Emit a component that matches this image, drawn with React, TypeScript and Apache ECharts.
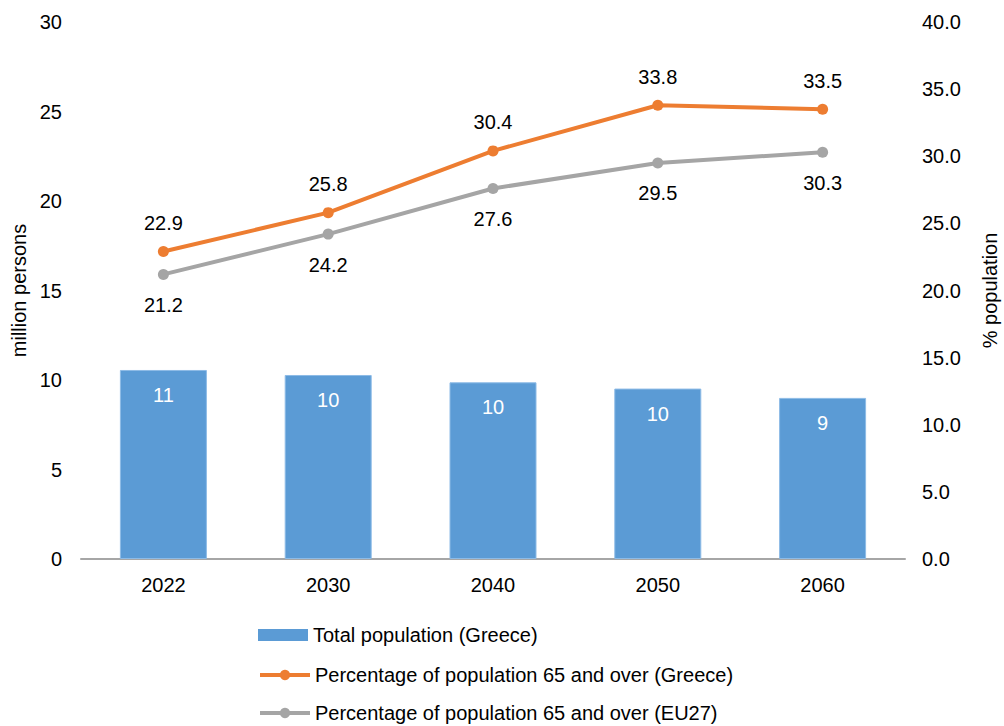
import React, { useEffect, useRef } from "react";
import * as echarts from "echarts";

const years = ["2022", "2030", "2040", "2050", "2060"];
const totalPopulation = [10.56, 10.28, 9.87, 9.52, 9.0];
const pctGreece = [22.9, 25.8, 30.4, 33.8, 33.5];
const pctEU27 = [21.2, 24.2, 27.6, 29.5, 30.3];

const NAME_BAR = "Total population (Greece)";
const NAME_GR = "Percentage of population 65 and over (Greece)";
const NAME_EU = "Percentage of population 65 and over (EU27)";

const FONT = "Liberation Sans";
const FS = 20;

export default function App() {
  const ref = useRef<HTMLDivElement>(null);
  useEffect(() => {
    if (!ref.current) return;
    const chart = echarts.init(ref.current, null, { renderer: "svg" });
    const legendBase = {
      orient: "horizontal",
      left: 258,
      padding: 0,
      itemWidth: 50,
      itemHeight: 12,
      textStyle: { fontFamily: FONT, fontSize: FS, color: "#000", lineHeight: 20 },
    };
    chart.setOption({
      animation: false,
      textStyle: { fontFamily: FONT },
      grid: {
        left: 81,
        right: 99,
        top: 22,
        bottom: 167,
        containLabel: false,
        outerBoundsMode: "none",
      },
      legend: [
        { ...legendBase, top: 625, data: [{ name: NAME_BAR, icon: "rect", itemStyle: { borderWidth: 0 } }] },
        { ...legendBase, top: 665, itemHeight: 13, data: [{ name: NAME_GR, lineStyle: { width: 4 } }] },
        { ...legendBase, top: 703, itemHeight: 13, data: [{ name: NAME_EU, lineStyle: { width: 4 } }] },
      ],
      xAxis: {
        type: "category",
        data: years,
        axisLine: { lineStyle: { color: "#a6a6a6", width: 2 } },
        axisTick: { show: false },
        axisLabel: { color: "#000", fontSize: FS, margin: 16, fontFamily: FONT },
      },
      yAxis: [
        {
          type: "value",
          min: 0,
          max: 30,
          interval: 5,
          name: "million persons",
          nameLocation: "middle",
          nameGap: 52,
          nameRotate: 90,
          nameTextStyle: { color: "#000", fontSize: FS, fontFamily: FONT },
          axisLine: { show: false },
          axisTick: { show: false },
          splitLine: { show: false },
          axisLabel: { color: "#000", fontSize: FS, margin: 19, fontFamily: FONT },
        },
        {
          type: "value",
          min: 0,
          max: 40,
          interval: 5,
          name: "% population",
          nameLocation: "middle",
          nameGap: 75,
          nameRotate: 90,
          nameTextStyle: { color: "#000", fontSize: FS, fontFamily: FONT },
          axisLine: { show: false },
          axisTick: { show: false },
          splitLine: { show: false },
          axisLabel: {
            color: "#000",
            fontSize: FS,
            margin: 17,
            fontFamily: FONT,
            formatter: (v: number) => v.toFixed(1),
          },
        },
      ],
      series: [
        {
          name: NAME_BAR,
          type: "bar",
          yAxisIndex: 0,
          data: totalPopulation,
          barWidth: 87,
          itemStyle: { color: "#5B9BD5", borderColor: "#8dbbe6", borderWidth: 1 },
          label: {
            show: true,
            position: "insideTop",
            distance: 15,
            color: "#fff",
            fontSize: FS,
            fontFamily: FONT,
            formatter: (p: any) => Math.round(p.value).toString(),
          },
        },
        {
          name: NAME_GR,
          type: "line",
          yAxisIndex: 1,
          data: pctGreece,
          symbol: "circle",
          symbolSize: 11,
          lineStyle: { color: "#ED7D31", width: 4 },
          itemStyle: { color: "#ED7D31" },
          label: {
            show: true,
            position: "top",
            distance: 13,
            color: "#000",
            fontSize: FS,
            fontFamily: FONT,
            formatter: (p: any) => p.value.toFixed(1),
          },
        },
        {
          name: NAME_EU,
          type: "line",
          yAxisIndex: 1,
          data: pctEU27,
          symbol: "circle",
          symbolSize: 11,
          lineStyle: { color: "#A5A5A5", width: 4 },
          itemStyle: { color: "#A5A5A5" },
          label: {
            show: true,
            position: "bottom",
            distance: 15,
            color: "#000",
            fontSize: FS,
            fontFamily: FONT,
            formatter: (p: any) => p.value.toFixed(1),
          },
        },
      ],
    });
    return () => chart.dispose();
  }, []);
  return (
    <div
      ref={ref}
      style={{ position: "fixed", left: 0, top: 0, width: 1004, height: 726, background: "#fff" }}
    />
  );
}
